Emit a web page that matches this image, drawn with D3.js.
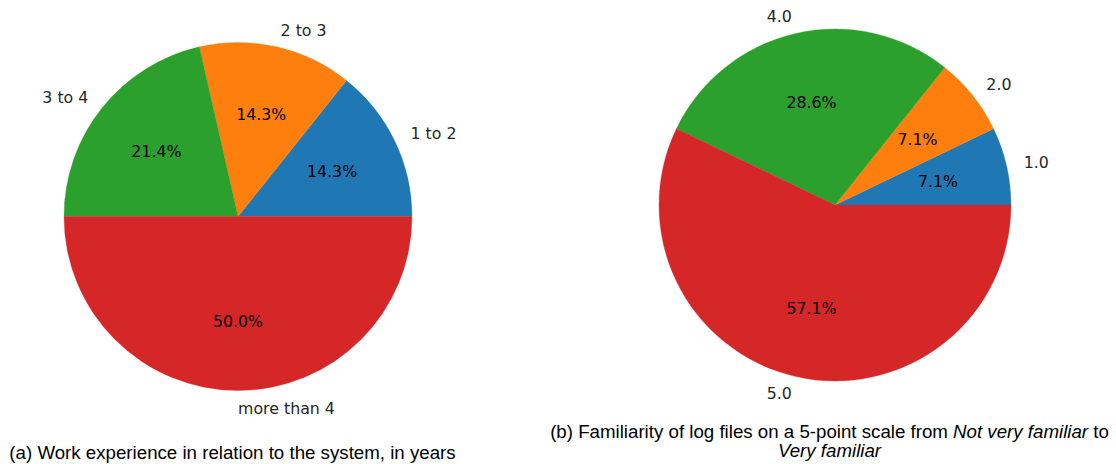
<!DOCTYPE html>
<html>
<head>
<meta charset="utf-8">
<script src="https://cdn.jsdelivr.net/npm/d3@7"></script>
<style>
  html, body { margin: 0; padding: 0; background: #fff; }
  svg { display: block; }
  .lbl { font-family: "DejaVu Sans", sans-serif; font-size: 15.8px; fill: #262626; }
  .pct { font-family: "DejaVu Sans", sans-serif; font-size: 15.8px; fill: #000; }
  .cap { font-family: "Liberation Sans", Arial, sans-serif; font-size: 18.7px; fill: #000; }
</style>
</head>
<body>
<svg id="chart" width="1116" height="464"></svg>
<script>
// Work experience with the system (respondent counts)
const expCategories = ["1 to 2", "2 to 3", "3 to 4", "more than 4"];
const expValues = [2, 2, 3, 7];

// Familiarity with log files, 5-point scale (respondent counts)
const famCategories = ["1.0", "2.0", "4.0", "5.0"];
const famValues = [1, 1, 4, 8];

const sliceColors = ["#1f77b4", "#ff7f0e", "#2ca02c", "#d62728"];

const svg = d3.select("#chart");

// Pies start at 3 o'clock and run counterclockwise
const pie = d3.pie().sort(null).startAngle(Math.PI / 2).endAngle(Math.PI / 2 - 2 * Math.PI);

function drawPie(cx, cy, r, cats, vals) {
  const g = svg.append("g").attr("transform", `translate(${cx},${cy})`);
  const arcs = pie(vals);
  const total = d3.sum(vals);
  const arc = d3.arc().innerRadius(0).outerRadius(r);
  const color = d3.scaleOrdinal().domain(cats).range(sliceColors);

  g.selectAll("path.slice")
    .data(arcs)
    .join("path")
    .attr("class", "slice")
    .attr("d", arc)
    .attr("fill", (d, i) => color(cats[i]))
    .attr("stroke", (d, i) => color(cats[i]))
    .attr("stroke-width", 0.3);

  const mid = d => (d.startAngle + d.endAngle) / 2;

  g.selectAll("text.lbl")
    .data(arcs)
    .join("text")
    .attr("class", "lbl")
    .each(function (d, i) {
      const a = mid(d);
      const x = 1.1 * r * Math.sin(a);
      const y = -1.1 * r * Math.cos(a);
      d3.select(this)
        .attr("x", x)
        .attr("y", y)
        .attr("dy", "0.36em")
        .attr("text-anchor", x < -1e-6 ? "end" : "start")
        .text(cats[i]);
    });

  g.selectAll("text.pct")
    .data(arcs)
    .join("text")
    .attr("class", "pct")
    .attr("x", d => 0.6 * r * Math.sin(mid(d)))
    .attr("y", d => -0.6 * r * Math.cos(mid(d)))
    .attr("dy", "0.36em")
    .attr("text-anchor", "middle")
    .text(d => (100 * d.value / total).toFixed(1) + "%");
}

drawPie(238, 216.5, 174, expCategories, expValues);
drawPie(835, 205, 176, famCategories, famValues);

// Sub-figure captions
svg.append("text")
  .attr("class", "cap")
  .attr("x", 232.5).attr("y", 459)
  .attr("text-anchor", "middle")
  .text("(a) Work experience in relation to the system, in years");

const capB = svg.append("text")
  .attr("class", "cap")
  .attr("text-anchor", "middle");
const line1 = capB.append("tspan").attr("x", 829.5).attr("y", 438);
line1.append("tspan").text("(b) Familiarity of log files on a 5-point scale from ");
line1.append("tspan").attr("font-style", "italic").text("Not very familiar");
line1.append("tspan").text(" to");
capB.append("tspan").attr("x", 829.5).attr("y", 457)
  .attr("font-style", "italic").text("Very familiar");
</script>
</body>
</html>
